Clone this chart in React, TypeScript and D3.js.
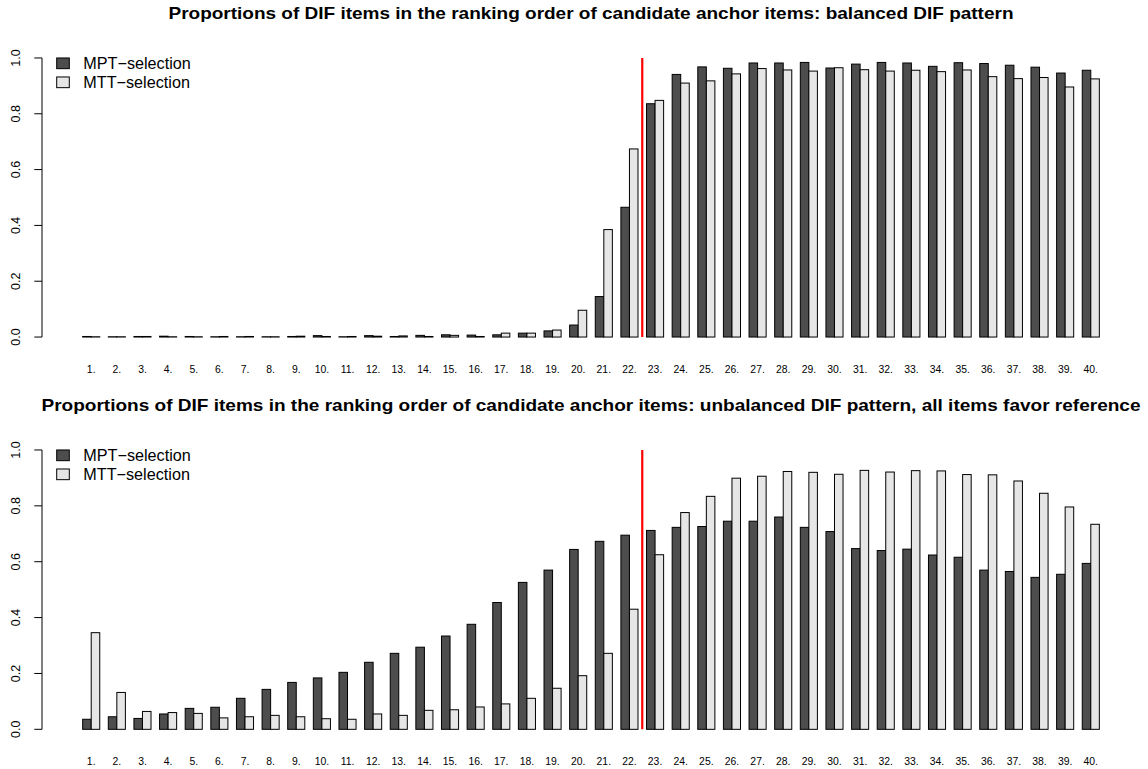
import React from "react";
import * as d3 from "d3";

// Ranked candidate anchor items 1..40
const items: string[] = Array.from({ length: 40 }, (_, i) => `${i + 1}.`);

// Balanced DIF pattern
const balancedMPT: number[] = [
  0.002, 0.001, 0.002, 0.003, 0.002, 0.001, 0.001, 0.001, 0.002, 0.005,
  0.001, 0.005, 0.002, 0.006, 0.008, 0.007, 0.008, 0.014, 0.022, 0.043,
  0.145, 0.465, 0.836, 0.941, 0.968, 0.963, 0.982, 0.982, 0.984, 0.964,
  0.978, 0.984, 0.982, 0.970, 0.983, 0.980, 0.974, 0.967, 0.946, 0.956,
];
const balancedMTT: number[] = [
  0.001, 0.001, 0.002, 0.001, 0.001, 0.002, 0.002, 0.001, 0.003, 0.002,
  0.002, 0.003, 0.004, 0.002, 0.006, 0.002, 0.014, 0.014, 0.025, 0.096,
  0.385, 0.674, 0.848, 0.910, 0.918, 0.943, 0.962, 0.957, 0.953, 0.965,
  0.958, 0.953, 0.956, 0.951, 0.957, 0.933, 0.926, 0.930, 0.896, 0.925,
];

// Unbalanced DIF pattern, all items favor reference
const unbalancedMPT: number[] = [
  0.036, 0.045, 0.039, 0.055, 0.075, 0.079, 0.111, 0.143, 0.168, 0.184,
  0.204, 0.240, 0.272, 0.294, 0.334, 0.376, 0.454, 0.526, 0.570, 0.644,
  0.673, 0.695, 0.712, 0.723, 0.726, 0.745, 0.745, 0.760, 0.723, 0.708,
  0.647, 0.640, 0.645, 0.624, 0.616, 0.570, 0.565, 0.544, 0.555, 0.594,
];
const unbalancedMTT: number[] = [
  0.346, 0.132, 0.064, 0.060, 0.057, 0.041, 0.045, 0.050, 0.045, 0.038,
  0.036, 0.055, 0.050, 0.068, 0.070, 0.080, 0.091, 0.111, 0.147, 0.192,
  0.272, 0.430, 0.625, 0.776, 0.834, 0.899, 0.906, 0.923, 0.920, 0.913,
  0.927, 0.921, 0.926, 0.925, 0.912, 0.911, 0.889, 0.845, 0.796, 0.734,
];

const yTicks: number[] = [0, 0.2, 0.4, 0.6, 0.8, 1.0];
const seriesNames: string[] = ["MPT\u2212selection", "MTT\u2212selection"];
const seriesFill: string[] = ["#4d4d4d", "#e6e6e6"];
const cutAfterItem = 22; // red separator between item 22 and 23

const titles: string[] = [
  "Proportions of DIF items in the ranking order of candidate anchor items: balanced DIF pattern",
  "Proportions of DIF items in the ranking order of candidate anchor items: unbalanced DIF pattern, all items favor reference",
];
const titleWidths: number[] = [845, 1099];

const W = 1148;
const H = 769;
const FONT = "'Liberation Sans', Arial, Helvetica, sans-serif";

// Bar layout in "barplot units": each group = space(1) + two bars(1 each)
const nGroups = items.length;
const unitMax = nGroups * 3;
const pad = (unitMax - 1) * 0.04;
const x = d3
  .scaleLinear()
  .domain([1 - pad, unitMax + pad])
  .range([42, 1140]);

type PanelProps = {
  top: number;
  bottom: number;
  title: string;
  titleWidth: number;
  a: number[];
  b: number[];
};

function Panel({ top, bottom, title, titleWidth, a, b }: PanelProps) {
  const y = d3.scaleLinear().domain([-0.04, 1.04]).range([bottom, top]);
  const x0 = x.range()[0];
  const xc = (x.range()[0] + x.range()[1]) / 2;
  const bw = x(2) - x(1);
  const series = [a, b];
  const sepX = x(3 * cutAfterItem + 0.5);
  return (
    <g>
      <text
        x={xc}
        y={top - 28.3}
        textAnchor="middle"
        fontFamily={FONT}
        fontWeight="bold"
        fontSize={17}
        textLength={titleWidth}
        lengthAdjust="spacingAndGlyphs"
        fill="#000"
      >
        {title}
      </text>
      {/* bars */}
      {series.map((vals, s) =>
        vals.map((v, i) => {
          const u = 3 * i + 1 + s;
          return (
            <rect
              key={`${s}-${i}`}
              x={x(u)}
              y={y(v)}
              width={bw}
              height={Math.max(0, y(0) - y(v))}
              fill={seriesFill[s]}
              stroke="#000"
              strokeWidth={1}
            />
          );
        })
      )}
      {/* separator */}
      <line
        x1={sepX}
        x2={sepX}
        y1={y(0)}
        y2={y(1)}
        stroke="#ff0000"
        strokeWidth={2.2}
      />
      {/* y axis */}
      <line x1={x0} x2={x0} y1={y(0)} y2={y(1)} stroke="#000" strokeWidth={1} />
      {yTicks.map((t) => (
        <g key={t}>
          <line x1={x0 - 7.7} x2={x0} y1={y(t)} y2={y(t)} stroke="#000" strokeWidth={1} />
          <text
            transform={`translate(${20},${y(t)}) rotate(-90)`}
            textAnchor="middle"
            fontFamily={FONT}
            fontSize={12.5}
            fill="#000"
          >
            {t.toFixed(1)}
          </text>
        </g>
      ))}
      {/* item labels */}
      {items.map((lab, i) => (
        <text
          key={lab}
          x={x(3 * i + 2)}
          y={y(0) + 35.7}
          textAnchor="middle"
          fontFamily={FONT}
          fontSize={10.4}
          fill="#000"
        >
          {lab}
        </text>
      ))}
      {/* legend */}
      {seriesNames.map((name, s) => (
        <g key={name}>
          <rect
            x={56.7}
            y={y(1) + s * 19}
            width={12.6}
            height={10.7}
            fill={seriesFill[s]}
            stroke="#000"
            strokeWidth={1}
          />
          <text
            x={83.3}
            y={y(1) + 11.4 + s * 19}
            fontFamily={FONT}
            fontSize={16.2}
            fill="#000"
          >
            {name}
          </text>
        </g>
      ))}
    </g>
  );
}

export default function App() {
  const panels = [
    { top: 46.8, bottom: 348.2, a: balancedMPT, b: balancedMTT },
    { top: 438.8, bottom: 740.5, a: unbalancedMPT, b: unbalancedMTT },
  ];
  return (
    <svg
      width={W}
      height={H}
      viewBox={`0 0 ${W} ${H}`}
      style={{ position: "absolute", left: 0, top: 0, background: "#fff" }}
    >
      <rect width={W} height={H} fill="#fff" />
      {panels.map((p, k) => (
        <Panel
          key={k}
          top={p.top}
          bottom={p.bottom}
          title={titles[k]}
          titleWidth={titleWidths[k]}
          a={p.a}
          b={p.b}
        />
      ))}
    </svg>
  );
}
